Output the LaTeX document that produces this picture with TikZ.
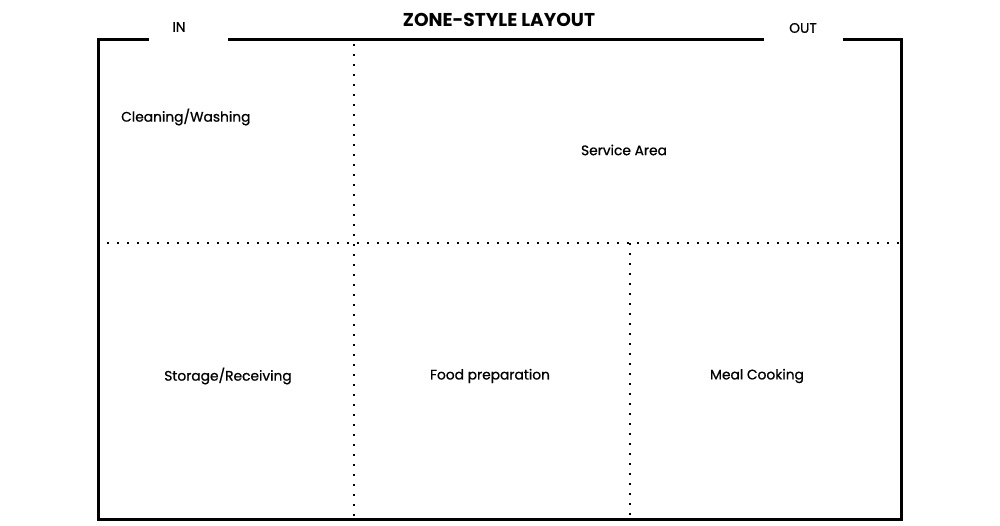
\documentclass[tikz,border=0pt]{standalone}
\usepackage{fontspec}
\setmainfont{Poppins}
\newfontfamily\labelfont[FakeBold=0.9]{Poppins}
\begin{document}
\begin{tikzpicture}[x=1pt,y=-1pt,
  wall/.style={line width=3pt,line cap=rect},
  zone/.style={line width=1.8pt,dash pattern=on 1.6pt off 8.4pt},
  lbl/.style={font=\labelfont\fontsize{13.8}{16}\selectfont,inner sep=0pt},
  ttl/.style={font=\fontsize{18.6}{21}\selectfont\bfseries,inner sep=0pt}]
\useasboundingbox (0,0) rectangle (1000,526);
\coordinate (tl) at (98,40);
\coordinate (tr) at (901,40);
\coordinate (bl) at (98,519);
\coordinate (br) at (901,519);
\coordinate (g1) at (147,40);
\coordinate (g2) at (229,40);
\coordinate (g3) at (762,40);
\coordinate (g4) at (844,40);
\draw[wall] (g1) -- (tl) -- (bl) -- (br) -- (tr) -- (g4);
\draw[wall] (g2) -- (g3);
\coordinate (v1t) at (354,44);
\coordinate (v1b) at (354,516);
\coordinate (hl) at (107,243);
\coordinate (hr) at (900,243);
\coordinate (v2t) at (630,243);
\coordinate (v2b) at (630,516);
\draw[zone] (v1t) -- (v1b);
\draw[zone] (hl) -- (hr);
\draw[zone] (v2t) -- (v2b);
\node[ttl] (title) at (499,20) {ZONE-STYLE LAYOUT};
\node[lbl] (in) at (179,27) {IN};
\node[lbl] (out) at (803,28) {OUT};
\node[lbl,anchor=west] (clean) at (121,117) {Cleaning/Washing};
\node[lbl] (serv) at (624,150) {Service Area};
\node[lbl] (stor) at (228,376) {Storage/Receiving};
\node[lbl] (food) at (490,376) {Food preparation};
\node[lbl] (meal) at (757,376) {Meal Cooking};
\end{tikzpicture}
\end{document}
